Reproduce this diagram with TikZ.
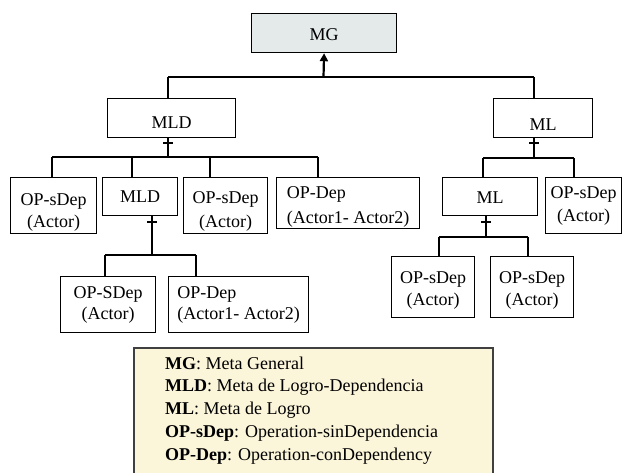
\documentclass[tikz,border=0pt]{standalone}
\usepackage{fontspec}
\setmainfont{Liberation Serif}
\usetikzlibrary{arrows.meta}
\definecolor{mgfill}{HTML}{E3EAE9}
\definecolor{legfill}{HTML}{FBF5D9}
\definecolor{legdraw}{HTML}{404040}
% invisible struts that fix the vertical place of the text in a box
\newcommand\tstr[1]{\rule{0pt}{#1pt}}
\newcommand\bstr{\rule[-5pt]{0pt}{5pt}}
\begin{document}
\begin{tikzpicture}[x=1pt,y=-1pt,
  box/.style={draw, line width=1.2pt, anchor=north west, inner sep=0pt, align=center,
    font=\fontsize{18}{22}\selectfont},
  lbox/.style={box, align=left},
  lsk/.style={font=\fontsize{18}{#1}\selectfont},
  conn/.style={line width=1.2pt},
  upArrow/.style={line width=2.2pt, -{Triangle[length=8pt,width=8pt]}},
  legline/.style={anchor=base west, inner sep=0pt, font=\fontsize{18}{20}\selectfont}]
\useasboundingbox (0,0) rectangle (623,472);
% legend
\node[draw=legdraw, fill=legfill, line width=1.5pt, anchor=north west, minimum width=359pt, minimum height=150pt, inner sep=0pt] (legend) at (133,347) {};
\node[legline] (l1) at (165,369) {\textbf{MG}: Meta General};
\node[legline] (l2) at (165,391.75) {\textbf{MLD}: Meta de Logro-Dependencia};
\node[legline] (l3) at (165,414.5) {\textbf{ML}: Meta de Logro};
\node[legline] (l4) at (165,437.25) {\textbf{OP-sDep}: Operation-sinDependencia};
\node[legline] (l5) at (165,460) {\textbf{OP-Dep}: Operation-conDependency};
% boxes
\node[box, fill=mgfill, minimum width=145pt, minimum height=39pt] (mg) at (251,13) {\tstr{20}MG\bstr};
\node[box, minimum width=128pt, minimum height=39pt] (mld) at (107,98) {\tstr{26}MLD\bstr};
\node[box, minimum width=99pt, minimum height=39pt] (ml) at (493,98) {\tstr{29}ML\bstr};
\node[box, lsk=22, minimum width=86pt, minimum height=56pt] (op1) at (10,177) {\tstr{27}OP-sDep\\(Actor)\bstr};
\node[box, minimum width=75pt, minimum height=38pt] (mld2) at (102,177) {\tstr{17}MLD\bstr};
\node[box, lsk=24, minimum width=84pt, minimum height=56pt] (op2) at (183,177) {\tstr{25}OP-sDep\\(Actor)\bstr};
\node[lbox, lsk=25, minimum width=143pt, minimum height=51pt] (opd1) at (276,177) {\tstr{21}OP-Dep\\(Actor1- Actor2)\bstr};
\node[box, minimum width=95pt, minimum height=38pt] (ml2) at (442,177) {\tstr{19}ML\bstr};
\node[box, lsk=23, minimum width=76pt, minimum height=56pt] (op3) at (545,177) {\tstr{13}OP-sDep\\(Actor)\bstr};
\node[box, lsk=21, minimum width=95pt, minimum height=56pt] (op4) at (60,276) {\tstr{13}OP-SDep\\(Actor)\bstr};
\node[lbox, lsk=21, minimum width=140pt, minimum height=56pt] (opd2) at (168,276) {\tstr{13}OP-Dep\\(Actor1- Actor2)\bstr};
\node[box, lsk=22, minimum width=83pt, minimum height=61pt] (op5) at (391,256) {\tstr{20}OP-sDep\\(Actor)\bstr};
\node[box, lsk=22, minimum width=83pt, minimum height=61pt] (op6) at (490,256) {\tstr{20}OP-sDep\\(Actor)\bstr};
% top level
\coordinate (ta) at (168,77);
\coordinate (tb) at (534,77);
\coordinate (tm) at (323.5,77);
\draw[conn] (ta) -- (tb);
\draw[conn] (ta) -- (ta |- mld.north);
\draw[conn] (tb) -- (tb |- ml.north);
\draw[upArrow] (tm) -- (mg.south);
% MLD bus
\coordinate (am) at (168,157);
\coordinate (a1) at (52,157);
\coordinate (a2) at (132,157);
\coordinate (a3) at (210,157);
\coordinate (a4) at (318,157);
\coordinate (at) at (168,143);
\draw[conn] (am |- mld.south) -- (am);
\draw[conn] ([xshift=-5pt]at) -- ([xshift=5pt]at);
\draw[conn] (a1) -- (a4);
\draw[conn] (a1) -- (a1 |- op1.north);
\draw[conn] (a2) -- (a2 |- mld2.north);
\draw[conn] (a3) -- (a3 |- op2.north);
\draw[conn] (a4) -- (a4 |- opd1.north);
% MLD child bus
\coordinate (cm) at (152,255);
\coordinate (c1) at (105,255);
\coordinate (c2) at (196,255);
\coordinate (ct) at (152,222);
\draw[conn] (cm |- mld2.south) -- (cm);
\draw[conn] ([xshift=-5pt]ct) -- ([xshift=5pt]ct);
\draw[conn] (c1) -- (c2);
\draw[conn] (c1) -- (c1 |- op4.north);
\draw[conn] (c2) -- (c2 |- opd2.north);
% ML bus
\coordinate (bm) at (534,158);
\coordinate (b1) at (483,158);
\coordinate (b2) at (574,158);
\coordinate (bt) at (534,143);
\draw[conn] (bm |- ml.south) -- (bm);
\draw[conn] ([xshift=-5pt]bt) -- ([xshift=5pt]bt);
\draw[conn] (b1) -- (b2);
\draw[conn] (b1) -- (b1 |- ml2.north);
\draw[conn] (b2) -- (b2 |- op3.north);
% ML child bus
\coordinate (dm) at (486,237);
\coordinate (d1) at (439,237);
\coordinate (d2) at (528,237);
\coordinate (dt) at (486,222);
\draw[conn] (dm |- ml2.south) -- (dm);
\draw[conn] ([xshift=-5pt]dt) -- ([xshift=5pt]dt);
\draw[conn] (d1) -- (d2);
\draw[conn] (d1) -- (d1 |- op5.north);
\draw[conn] (d2) -- (d2 |- op6.north);
\end{tikzpicture}
\end{document}
